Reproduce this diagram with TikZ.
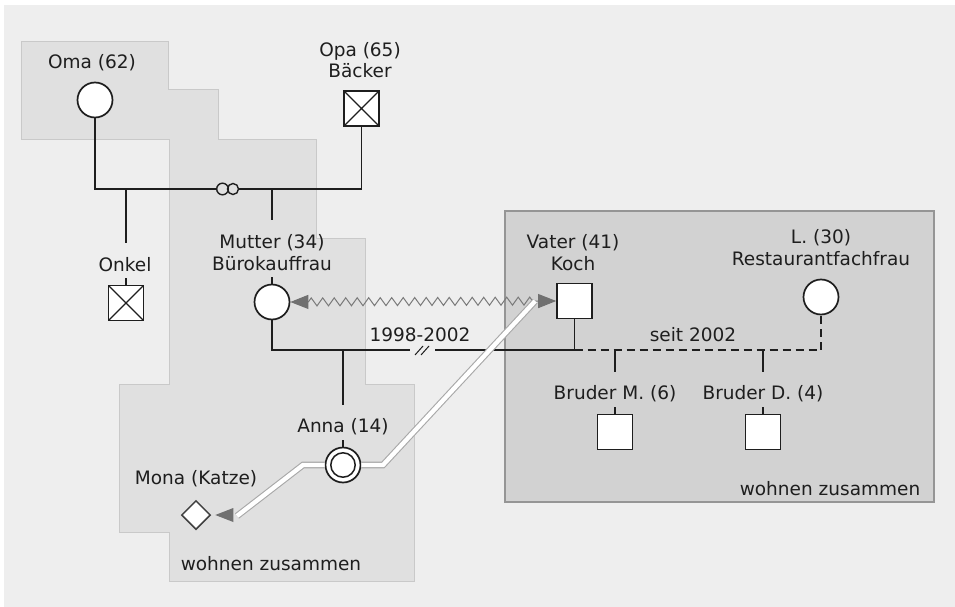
\documentclass[tikz,border=0pt]{standalone}
\usepackage{fontspec}
\setmainfont{DejaVu Sans}
\usetikzlibrary{shapes.geometric,decorations.pathmorphing,arrows.meta,calc}
\definecolor{bgc}{HTML}{EEEEEE}
\definecolor{lreg}{HTML}{E0E0E0}
\definecolor{lregb}{HTML}{C9C9C9}
\definecolor{rreg}{HTML}{D2D2D2}
\definecolor{rregb}{HTML}{959595}
\definecolor{ink}{HTML}{1E1E1E}
\definecolor{tipc}{HTML}{707070}
\definecolor{bandc}{HTML}{A8A8A8}
\definecolor{zigc}{HTML}{7A7A7A}
\begin{document}
\begin{tikzpicture}[x=1pt,y=-1pt,
  lbl/.style={font=\fontsize{18.5}{21.5}\selectfont, text=ink, align=center, inner sep=0pt},
  fem/.style={circle, draw=ink, fill=white, line width=1.7pt, minimum size=35pt, inner sep=0pt},
  male/.style={rectangle, draw=ink, fill=white, line width=1.6pt, minimum size=35pt, inner sep=0pt},
  dead/.style={male, path picture={\draw[ink, line width=1.1pt]
      (path picture bounding box.south west) -- (path picture bounding box.north east)
      (path picture bounding box.north west) -- (path picture bounding box.south east);}},
  selfc/.style={fem, path picture={\draw[ink, line width=1.5pt] (path picture bounding box.center) circle (12.2);}},
  pet/.style={diamond, aspect=1, draw=ink!85, fill=white, line width=1.5pt, minimum width=29pt, minimum height=29pt, inner sep=0pt},
  rel/.style={draw=ink, line width=1.5pt},
  reldash/.style={rel, dash pattern=on 8pt off 5pt},
  zig/.style={draw=zigc, line width=1pt, decorate,
     decoration={zigzag, segment length=11.5pt, amplitude=4pt, pre length=18pt, post length=20pt},
     {Triangle[length=18pt,width=14pt,color=tipc]}-{Triangle[length=18pt,width=14pt,color=tipc]}},
  band/.style={draw=bandc, line width=1.1pt, double=white, double distance=4.4pt, line join=miter},
]
\useasboundingbox (0,0) rectangle (955,607);
\fill[white] (0,0) rectangle (955,607);
\fill[bgc] (4,5) rectangle (955,607);
% household regions
\filldraw[fill=lreg, draw=lregb, line width=1pt]
  (21,42) -- (168,42) -- (168,90) -- (218,90) -- (218,139) -- (316,139) -- (316,238)
  -- (365,238) -- (365,384) -- (414,384) -- (414,581) -- (169,581) -- (169,532)
  -- (119,532) -- (119,384) -- (169,384) -- (169,139) -- (21,139) -- cycle;
\filldraw[fill=rreg, draw=rregb, line width=1.2pt] (505,211) rectangle (934,502);

% persons
\node[fem] (oma) at (95,100) {};
\node[lbl] (omaL) at (92,63) {Oma (62)};
\node[dead] (opa) at (361.5,108.5) {};
\node[lbl] (opaL) at (360,60) {Opa (65)\\Bäcker};
\node[lbl] (onkelL) at (125,265) {Onkel};
\node[dead] (onkel) at (126,303) {};
\node[lbl] (mutL) at (272,252.5) {Mutter (34)\\Bürokauffrau};
\node[fem] (mut) at (272,302) {};
\node[lbl] (vatL) at (573,252.5) {Vater (41)\\Koch};
\node[male] (vat) at (574.5,301) {};
\node[lbl] (lL) at (821,247.5) {L. (30)\\Restaurantfachfrau};
\node[fem] (l) at (821,297) {};
\node[lbl] (annaL) at (343,427) {Anna (14)};
\node[selfc] (anna) at (343,465) {};
\node[lbl] (monaL) at (196,479) {Mona (Katze)};
\node[pet] (mona) at (196,515) {};
\node[lbl] (bmL) at (615,394) {Bruder M. (6)};
\node[male] (bm) at (615,432) {};
\node[lbl] (bdL) at (763,394) {Bruder D. (4)};
\node[male] (bd) at (763,432) {};
\node[lbl] (y1) at (420,335) {1998-2002};
\node[lbl] (y2) at (693,335) {seit 2002};
\node[lbl] (w1) at (830,489) {wohnen zusammen};
\node[lbl] (w2) at (271,564) {wohnen zusammen};

% grandparents
\coordinate (m1) at (228,189);
\draw[rel] (oma.south) -- (oma.south |- m1) -| (opa.south);
\draw[rel] (onkel.north |- m1) -- ++(0,54);
\draw[rel] (onkel.north) -- ++(0,-7);
\draw[rel] (mut.north |- m1) -- ++(0,31);
\draw[rel] (mut.north) -- ++(0,-7);
\filldraw[fill=lreg, draw=ink, line width=1.4pt] (222.5,189) circle (5.8) (233,189) circle (5.5);

% parents
\coordinate (m2) at (420,350);
\draw[rel] (mut.south) -- (mut.south |- m2) -- (410,350);
\draw[rel] (435,350) -- (vat.south |- m2) -- (vat.south);
\draw[ink, line width=1pt] (415,355) -- (423,346) (421,355) -- (429,346);
\draw[rel] (anna.north |- m2) -- ++(0,55);
\draw[rel] (anna.north) -- ++(0,-7);
\draw[reldash] (vat.south |- m2) -- (l.south |- m2) -- (l.south);
\draw[rel] (bm.north |- m2) -- ++(0,22);
\draw[rel] (bd.north |- m2) -- ++(0,22);
\draw[rel] (bm.north) -- ++(0,-7);
\draw[rel] (bd.north) -- ++(0,-7);

% conflict line
\draw[zig] (mut.east) -- (vat.west);

% bands
\coordinate (b1) at (383,465);
\coordinate (b2) at (303,465);
\coordinate (b3) at (237,516);
\draw[band] ([xshift=-21pt,yshift=0pt]vat.west) -- (b1) -- (anna.east);
\draw[band] (anna.west) -- (b2) -- (b3);
\fill[tipc] ([xshift=4pt]mona.east) -- ++(18,-7) -- ++(0,14) -- cycle;
\end{tikzpicture}
\end{document}
